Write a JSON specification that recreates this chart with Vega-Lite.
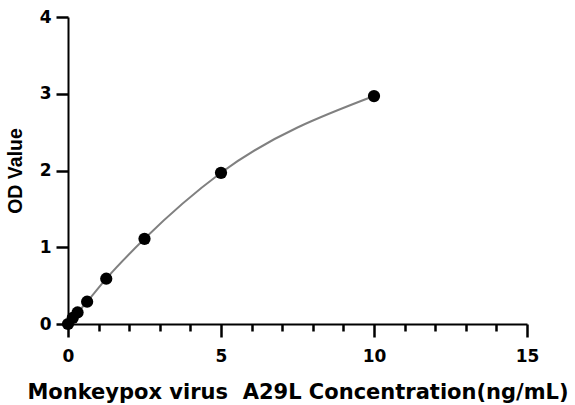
{
  "$schema": "https://vega.github.io/schema/vega-lite/v6.json",
  "width": 459,
  "height": 307,
  "autosize": "none",
  "padding": {"left": 68, "top": 17, "right": 48, "bottom": 81},
  "background": "white",
  "config": {
    "view": {"stroke": null},
    "font": "Liberation Sans"
  },
  "data": {
    "values": [
      {"conc": 0, "od": 0.0},
      {"conc": 0.156, "od": 0.08},
      {"conc": 0.3125, "od": 0.15},
      {"conc": 0.625, "od": 0.29},
      {"conc": 1.25, "od": 0.59},
      {"conc": 2.5, "od": 1.11},
      {"conc": 5, "od": 1.97},
      {"conc": 10, "od": 2.97}
    ]
  },
  "encoding": {
    "x": {
      "field": "conc",
      "type": "quantitative",
      "scale": {"domain": [0, 15], "nice": false},
      "axis": {
        "title": "Monkeypox virus\u00a0\u00a0A29L Concentration(ng/mL)",
        "values": [0,1,2,3,4,5,6,7,8,9,10,11,12,13,14,15],
        "format": "d",
        "labelExpr": "datum.value % 5 === 0 ? datum.label : ''",
        "tickSize": 13,
        "tickColor": "black",
        "tickDash": {"condition": {"test": "datum.value % 5 !== 0", "value": [7, 30]}, "value": [100, 1]},
        "tickWidth": 2.5,
        "domainColor": "black",
        "domainWidth": 2,
        "labelColor": "black",
        "labelFont": "DejaVu Sans",
        "labelFontWeight": "bold",
        "labelFontSize": 17,
        "labelPadding": 11,
        "labelFlush": false,
        "labelOverlap": false,
        "labelBound": false,
        "grid": false,
        "titleFont": "DejaVu Sans",
        "titleFontWeight": "bold",
        "titleFontSize": 21,
        "titleColor": "black",
        "titlePadding": 17
      }
    },
    "y": {
      "field": "od",
      "type": "quantitative",
      "scale": {"domain": [0, 4], "nice": false},
      "axis": {
        "title": "OD Value",
        "values": [0, 1, 2, 3, 4],
        "format": "d",
        "tickSize": 12,
        "tickWidth": 2.5,
        "tickColor": "black",
        "domainColor": "black",
        "domainWidth": 2,
        "labelColor": "black",
        "labelFont": "DejaVu Sans",
        "labelFontWeight": "bold",
        "labelFontSize": 17,
        "labelPadding": 5,
        "labelFlush": false,
        "grid": false,
        "titleFont": "Liberation Sans",
        "titleFontWeight": "bold",
        "titleFontSize": 19.5,
        "titleColor": "black",
        "titlePadding": 14
      }
    }
  },
  "layer": [
    {
      "mark": {"type": "line", "interpolate": "monotone", "color": "#808080", "strokeWidth": 2}
    },
    {
      "mark": {"type": "circle", "size": 150, "color": "black", "opacity": 1}
    }
  ]
}
